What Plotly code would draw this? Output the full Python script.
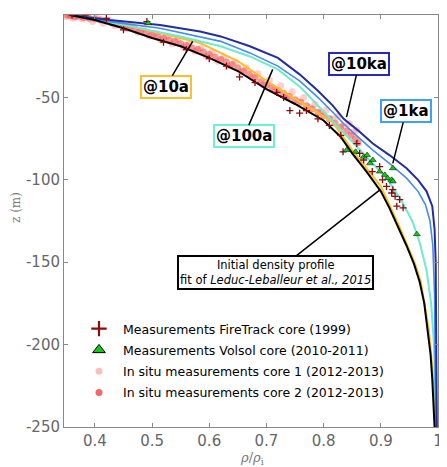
import plotly.graph_objects as go

# ---------------- data ----------------
# Model profiles (rho/rho_i, z in m)
init_x = [0.356, 0.40, 0.45, 0.50, 0.55, 0.60, 0.65, 0.70, 0.75, 0.80, 0.83, 0.85, 0.875, 0.90, 0.915, 0.93, 0.945, 0.958, 0.968, 0.976, 0.982, 0.987, 0.99, 0.992, 0.994]
init_z = [0, -3, -8, -14, -19, -26, -34, -45, -54, -64, -74, -84, -95, -107, -117, -128, -140, -151, -162, -175, -191, -206, -221, -235, -250]

a10_x = [0.356, 0.426, 0.514, 0.584, 0.65, 0.70, 0.76, 0.816, 0.85, 0.90, 0.932, 0.947, 0.96, 0.97, 0.984, 0.992, 0.995]
a10_z = [0, -4, -11, -17, -28, -40, -53, -65, -82, -104, -128, -140, -151, -162, -191, -221, -250]

a100_x = [0.356, 0.45, 0.55, 0.62, 0.67, 0.72, 0.76, 0.79, 0.82, 0.85, 0.88, 0.91, 0.935, 0.955, 0.968, 0.98, 0.988, 0.993, 0.997]
a100_z = [0, -6, -13, -19, -25, -33, -44, -55, -66, -77, -88, -99, -112, -125, -138, -155, -175, -200, -250]

ka1_x = [0.356, 0.426, 0.514, 0.584, 0.62, 0.671, 0.72, 0.758, 0.79, 0.816, 0.835, 0.86, 0.886, 0.915, 0.945, 0.965, 0.978, 0.986, 0.991, 0.994, 0.996]
ka1_z = [0, -4, -8, -13, -16, -23, -31, -40, -50, -59, -66, -74, -82, -90, -99, -107, -115, -125, -140, -170, -250]

ka10_x = [0.356, 0.426, 0.514, 0.584, 0.62, 0.671, 0.72, 0.758, 0.79, 0.816, 0.835, 0.86, 0.886, 0.915, 0.945, 0.965, 0.98, 0.99, 0.994, 0.996, 0.997, 0.998]
ka10_z = [0, -3, -6, -10, -13, -19, -26, -36, -46, -55, -63, -70, -78, -85, -93, -100, -107, -116, -130, -150, -200, -250]

# Measurements
fire_x = [0.360, 0.383, 0.420, 0.491, 0.45, 0.52, 0.56, 0.60, 0.63, 0.653, 0.68, 0.718, 0.73, 0.741, 0.758, 0.77, 0.79, 0.81, 0.83, 0.834, 0.858, 0.863, 0.87, 0.885, 0.898, 0.903, 0.91, 0.919, 0.921, 0.925, 0.928, 0.933, 0.939]
fire_z = [0, 0, -2, -4, -9, -16.5, -21, -26.5, -31, -37.6, -41, -47, -50, -58, -59.6, -58, -63, -67, -73, -83, -78, -84, -88, -95, -92, -100, -104, -108, -106, -110, -116, -112, -117]

volsol_x = [0.493, 0.84, 0.856, 0.87, 0.876, 0.881, 0.886, 0.898, 0.907, 0.912, 0.919, 0.921, 0.921, 0.963]
volsol_z = [-5, -82, -83, -86, -85, -90, -88, -95, -97, -99, -100, -93, -101, -133]

core1_x = [0.350, 0.355, 0.362, 0.370, 0.378, 0.388, 0.396, 0.405, 0.415, 0.425, 0.435, 0.445, 0.455, 0.465, 0.475, 0.485, 0.495, 0.505, 0.515, 0.525, 0.535, 0.545, 0.555, 0.565, 0.575, 0.585, 0.595, 0.605, 0.615, 0.625, 0.635, 0.645, 0.655, 0.665, 0.675, 0.685, 0.695, 0.705, 0.715, 0.725, 0.735, 0.745, 0.755, 0.765, 0.775, 0.785, 0.795, 0.805, 0.815, 0.825, 0.835, 0.845, 0.852, 0.858]
core1_z = [-1.0, 0.0, -2.0, -0.5, -2.5, -1.2, -4.0, -2.0, -5.0, -3.2, -6.5, -5.0, -8.5, -6.8, -10.5, -8.5, -12.8, -11.0, -15.0, -13.0, -17.5, -15.0, -19.5, -17.8, -22.0, -20.0, -25.0, -22.5, -28.0, -25.5, -31.0, -28.5, -34.5, -32.0, -38.0, -35.5, -42.0, -39.5, -45.5, -43.0, -49.0, -46.5, -52.5, -50.0, -56.0, -54.0, -59.5, -57.5, -63.0, -61.5, -67.0, -66.0, -71.0, -70.0]

core2_x = [0.352, 0.358, 0.365, 0.372, 0.380, 0.390, 0.400, 0.410, 0.420, 0.430, 0.440, 0.450, 0.460, 0.470, 0.480, 0.490, 0.500, 0.510, 0.520, 0.530, 0.540, 0.550, 0.560, 0.570, 0.580, 0.590, 0.600, 0.610, 0.620, 0.630, 0.640, 0.650, 0.660, 0.670, 0.680, 0.690, 0.700, 0.710, 0.720, 0.730, 0.740, 0.750, 0.760, 0.770, 0.780, 0.790, 0.800, 0.810, 0.820, 0.830, 0.840, 0.848, 0.855, 0.860]
core2_z = [0.0, -0.5, -1.0, -0.8, -1.5, -2.0, -2.2, -3.0, -3.5, -4.8, -5.5, -6.5, -7.3, -8.5, -9.8, -10.5, -12.0, -13.0, -14.0, -15.2, -16.0, -17.5, -18.5, -20.0, -21.0, -22.5, -24.0, -25.5, -27.0, -28.5, -30.0, -32.0, -34.0, -36.0, -38.0, -40.5, -42.5, -44.0, -46.0, -47.5, -49.5, -51.5, -53.0, -55.0, -57.0, -59.0, -61.0, -63.0, -65.5, -68.0, -70.5, -73.0, -75.5, -77.5]

x_ticks = [0.4, 0.5, 0.6, 0.7, 0.8, 0.9, 1.0]
x_tick_text = ["0.4", "0.5", "0.6", "0.7", "0.8", "0.9", "1"]
y_ticks = [0, -50, -100, -150, -200, -250]
y_tick_text = ["0", "-50", "-100", "-150", "-200", "-250"]

FIRE_COL = "rgb(140,10,10)"
VOLSOL_COL = "rgb(20,200,20)"
CORE1_COL = "rgba(255,165,165,0.55)"
CORE2_COL = "rgba(245,80,80,0.6)"

# page geometry (the page body adds an 8 px offset)
W, H = 439, 459
ML, MR, MT, MB = 56, 9, 7, 40
OFF = 8
PW = W - ML - MR
PH = H - MT - MB

def px_to_paper(px, py):
    return (px - OFF - ML) / PW, (H - MB - (py - OFF)) / PH

# ---------------- figure ----------------
fig = go.Figure()

fig.add_trace(go.Scatter(x=core1_x, y=core1_z, mode="markers", showlegend=False,
                         marker=dict(color=CORE1_COL, size=7)))
fig.add_trace(go.Scatter(x=core2_x, y=core2_z, mode="markers", showlegend=False,
                         marker=dict(color=CORE2_COL, size=7)))

lines = [
    (a10_x, a10_z, "rgb(255,190,40)", 2),
    (a100_x, a100_z, "rgb(110,235,205)", 2),
    (ka1_x, ka1_z, "rgb(70,140,235)", 1.6),
    (ka10_x, ka10_z, "rgb(35,45,160)", 2),
    (init_x, init_z, "black", 2),
]
for lx, lz, col, w in lines:
    fig.add_trace(go.Scatter(x=lx, y=lz, mode="lines", line=dict(color=col, width=w),
                             showlegend=False, hoverinfo="skip"))

fig.add_trace(go.Scatter(x=fire_x, y=fire_z, mode="markers", showlegend=False,
                         marker=dict(symbol="cross-thin", size=5, line=dict(color=FIRE_COL, width=1.3))))
fig.add_trace(go.Scatter(x=volsol_x, y=volsol_z, mode="markers", showlegend=False,
                         marker=dict(symbol="triangle-up", size=6, color=VOLSOL_COL, line=dict(color="black", width=0.5))))

# legend-only entries (larger symbols, as in the reference legend)
fig.add_trace(go.Scatter(x=[None], y=[None], mode="markers", name="Measurements FireTrack core (1999)",
                         marker=dict(symbol="cross-thin", size=11, line=dict(color=FIRE_COL, width=2.2)),
                         legendgroup="a", legendrank=1))
fig.add_trace(go.Scatter(x=[None], y=[None], mode="markers", name="Measurements Volsol core (2010-2011)",
                         marker=dict(symbol="triangle-up", size=11, color=VOLSOL_COL, line=dict(color="black", width=1)),
                         legendgroup="b", legendrank=2))
fig.add_trace(go.Scatter(x=[None], y=[None], mode="markers", name="In situ measurements core 1 (2012-2013)",
                         marker=dict(color="rgb(255,190,190)", size=7), legendgroup="c", legendrank=3))
fig.add_trace(go.Scatter(x=[None], y=[None], mode="markers", name="In situ measurements core 2 (2012-2013)",
                         marker=dict(color="rgb(250,100,100)", size=7), legendgroup="d", legendrank=4))

axis_common = dict(showline=True, linecolor="#888", linewidth=1, mirror="ticks", ticks="inside", ticklen=4,
                   tickcolor="#888", showgrid=False, zeroline=False, automargin=False,
                   tickfont=dict(family="DejaVu Sans", size=15, color="#666"))

lx0, ly0 = px_to_paper(75, 314)
fig.update_layout(
    width=W, height=H,
    margin=dict(l=ML, r=MR, t=MT, b=MB, autoexpand=False),
    paper_bgcolor="white", plot_bgcolor="white",
    xaxis=dict(range=[0.346, 1.0], tickvals=x_ticks, ticktext=x_tick_text, **axis_common),
    yaxis=dict(range=[-250, 0], tickvals=y_ticks, ticktext=y_tick_text, **axis_common),
    legend=dict(x=lx0, y=ly0, xanchor="left", yanchor="top", bgcolor="rgba(255,255,255,0)",
                font=dict(family="DejaVu Sans", size=12.5, color="black"), traceorder="grouped",
                tracegroupgap=2, itemwidth=38),
    showlegend=True,
)

# axis titles
tx, ty = px_to_paper(16, 207)
fig.add_annotation(x=tx, y=ty, xref="paper", yref="paper", xanchor="center", yanchor="middle",
                   text="z (m)", showarrow=False, textangle=-90,
                   font=dict(family="DejaVu Serif", size=12, color="#777"))
tx, ty = px_to_paper(252, 458)
fig.add_annotation(x=tx, y=ty, xref="paper", yref="paper", xanchor="center", yanchor="middle",
                   text="<i>ρ</i>/<i>ρ</i><sub>i</sub>", showarrow=False,
                   font=dict(family="DejaVu Serif", size=13, color="#777"))

def label(text, x, y, ax, ay, border, bold=True, size=15):
    fig.add_annotation(x=x, y=y, xref="x", yref="y", ax=ax, ay=ay, axref="x", ayref="y",
                       text=f"<b>{text}</b>" if bold else text, showarrow=True, arrowhead=0, arrowwidth=1.5,
                       arrowcolor="black", bordercolor=border, borderwidth=2, borderpad=1, bgcolor="white",
                       font=dict(family="DejaVu Sans", size=size, color="black"))

label("@10a", 0.571, -16, 0.524, -43.5, "rgb(255,190,40)")
label("@100a", 0.711, -33, 0.661, -73.5, "rgb(110,240,210)")
label("@10ka", 0.84, -62, 0.862, -29.5, "rgb(40,40,190)")
label("@1ka", 0.921, -90, 0.944, -58.5, "rgb(60,160,255)")
label("Initial density profile<br>fit of <i>Leduc-Leballeur et al., 2015</i>", 0.899, -106, 0.716, -156,
      "black", bold=False, size=11.5)

fig.write_html("out.html")
